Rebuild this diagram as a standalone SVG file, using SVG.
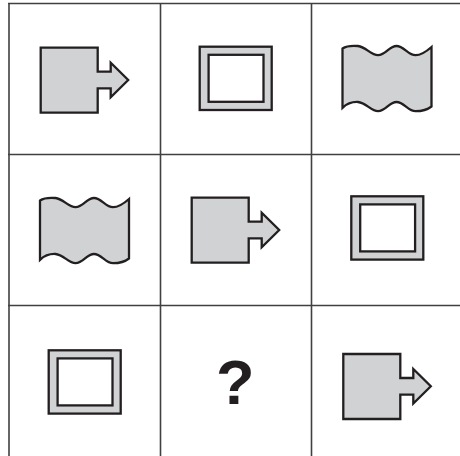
<svg xmlns="http://www.w3.org/2000/svg" width="460" height="456" viewBox="0 0 460 456">
<style>
.grid{stroke:#404040;stroke-width:1.6;fill:none}
.shape{fill:#d1d2d4;stroke:#231f20;stroke-width:2.3;stroke-linejoin:miter}
.hole{fill:#ffffff;stroke:#231f20;stroke-width:2.3}
.q{font-family:"Liberation Sans",Arial,sans-serif;font-weight:bold;font-size:63px;fill:#231f20}
</style>
<defs>
<path id="arrow" class="shape" d="M0,0 H57 V24 H70 V15 L87.5,32.3 L70,49.6 V40.6 H57 V65 H0 Z"/>
<g id="frame">
<rect class="shape" x="0" y="0" width="72" height="63.3"/>
<rect class="hole" x="8.9" y="8.1" width="54.9" height="47"/>
</g>
<path id="wave" class="shape" d="M-44.5,-29.5 C-40,-32.5 -35,-32.5 -29,-32 C-21,-31 -16,-22.8 -9,-22.8 C-1,-22.8 2,-32 9.5,-32 C17,-32 21,-22.8 28.5,-22.8 C35,-22.8 40,-27 44.5,-31 L44.5,28.5 C40,32 35,33.2 28.5,33.2 C21,33.2 17,24 9.5,24 C2,24 -1,33.2 -9,33.2 C-16,33.2 -21,24.5 -29,24 C-35,23.7 -40,25.5 -44.5,29.8 Z"/>
</defs>
<g id="grid">
<line class="grid" x1="8" y1="3.5" x2="460" y2="3.5"/>
<line class="grid" x1="8" y1="154.5" x2="460" y2="154.5"/>
<line class="grid" x1="8" y1="305.5" x2="460" y2="305.5"/>
<line class="grid" x1="9" y1="3" x2="9" y2="456"/>
<line class="grid" x1="160.5" y1="3" x2="160.5" y2="456"/>
<line class="grid" x1="311.5" y1="3" x2="311.5" y2="456"/>
</g>
<g id="r1c1"><use href="#arrow" transform="translate(40.7,47.7)"/></g>
<g id="r1c2"><use href="#frame" transform="translate(199.7,46.7)"/></g>
<g id="r1c3"><use href="#wave" transform="translate(387,78)"/></g>
<g id="r2c1"><use href="#wave" transform="translate(84.5,230)"/></g>
<g id="r2c2"><use href="#arrow" transform="translate(191.7,197.7)"/></g>
<g id="r2c3"><use href="#frame" transform="translate(351.3,196.3)"/></g>
<g id="r3c1"><use href="#frame" transform="translate(48.7,350.3)"/></g>
<g id="r3c2"><text class="q" x="235.3" y="403.5" text-anchor="middle">?</text></g>
<g id="r3c3"><use href="#arrow" transform="translate(343.3,354)"/></g>
</svg>
